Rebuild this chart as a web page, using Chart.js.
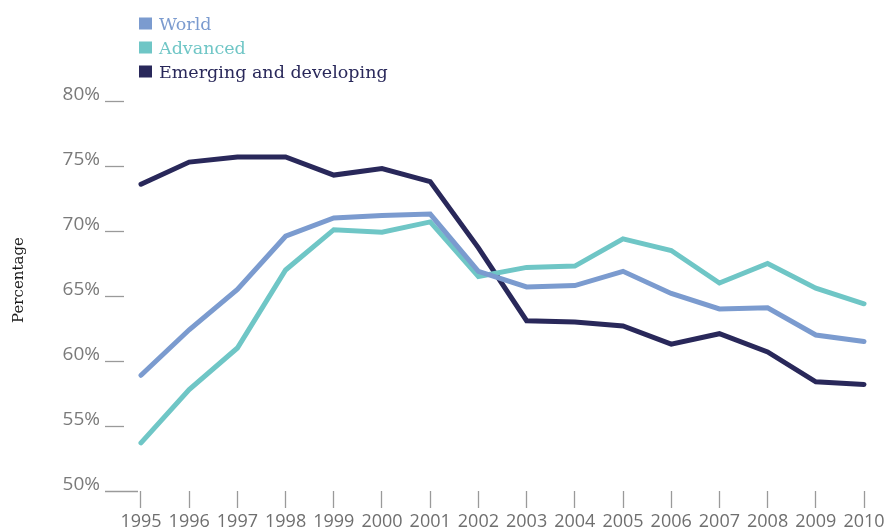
<!DOCTYPE html>
<html>
<head>
<meta charset="utf-8">
<script src="https://cdn.jsdelivr.net/npm/chart.js@4"></script>
<style>
  html, body { margin: 0; padding: 0; background: #fff; }
  canvas { display: block; }
</style>
</head>
<body>
<canvas id="chart" width="888" height="531"></canvas>
<script>
const years = [1995, 1996, 1997, 1998, 1999, 2000, 2001, 2002, 2003, 2004, 2005, 2006, 2007, 2008, 2009, 2010];
const world = [58.9, 62.4, 65.5, 69.6, 71.0, 71.2, 71.3, 66.9, 65.7, 65.8, 66.9, 65.2, 64.0, 64.1, 62.0, 61.5];
const advanced = [53.7, 57.8, 61.0, 67.0, 70.1, 69.9, 70.7, 66.5, 67.2, 67.3, 69.4, 68.5, 66.0, 67.5, 65.6, 64.4];
const emerging = [73.6, 75.3, 75.7, 75.7, 74.3, 74.8, 73.8, 68.7, 63.1, 63.0, 62.7, 61.3, 62.1, 60.7, 58.4, 58.2];
const yTicks = [50, 55, 60, 65, 70, 75, 80];

const seriesNames = ["World", "Advanced", "Emerging and developing"];
const seriesColors = ["#7b9bcf", "#6fc6c6", "#29285a"];
const axisTitle = "Percentage";

const sansFont = "'Open Sans', 'Noto Sans', sans-serif";
const serifFont = "'DejaVu Serif', serif";

const toPoints = (vals) => vals.map((v, i) => ({ x: years[i], y: v }));

// legend block and rotated axis title, drawn on the canvas
const annotations = {
  id: "annotations",
  afterDraw(chart) {
    const ctx = chart.ctx;
    ctx.save();
    ctx.font = "17.5px " + serifFont;
    ctx.textBaseline = "alphabetic";
    ctx.textAlign = "left";
    chart.data.datasets.forEach((ds, i) => {
      const base = 29.5 + i * 24;
      ctx.fillStyle = ds.borderColor;
      ctx.fillRect(139, base - 12, 13, 12);
      ctx.fillText(ds.label, 159, base);
    });

    ctx.translate(22.5, 280);
    ctx.rotate(-Math.PI / 2);
    ctx.font = "15px " + serifFont;
    ctx.fillStyle = "#1a1a1a";
    ctx.textAlign = "center";
    ctx.fillText(axisTitle, 0, 0);
    ctx.restore();
  },
};

new Chart(document.getElementById("chart"), {
  type: "line",
  data: {
    datasets: [world, advanced, emerging].map((vals, i) => ({
      label: seriesNames[i],
      data: toPoints(vals),
      borderColor: seriesColors[i],
      backgroundColor: seriesColors[i],
      borderWidth: 5,
      borderCapStyle: "round",
      pointRadius: 0,
      tension: 0,
    })),
  },
  options: {
    responsive: false,
    animation: false,
    layout: { padding: { top: 101, right: 21, bottom: 0, left: 0 } },
    plugins: {
      legend: { display: false },
      tooltip: { enabled: false },
    },
    scales: {
      x: {
        type: "linear",
        min: 1994.938,
        max: 2010.062,
        afterFit: (s) => {
          s.height = 40;
          s.paddingLeft = 0;
          s.paddingRight = 0;
        },
        afterBuildTicks: (s) => {
          s.ticks = years.map((y) => ({ value: y }));
        },
        border: { display: false },
        grid: {
          drawOnChartArea: false,
          tickLength: 17,
          tickColor: "#9a9a9a",
          tickWidth: 1.3,
        },
        ticks: {
          autoSkip: false,
          maxRotation: 0,
          padding: 3,
          color: "#6f6f6f",
          font: { family: sansFont, size: 18 },
          callback: (v) => String(v),
        },
      },
      y: {
        min: 50,
        max: 80,
        afterFit: (s) => {
          s.width = 138;
          s.paddingTop = 0;
          s.paddingBottom = 0;
        },
        afterBuildTicks: (s) => {
          s.ticks = yTicks.map((v) => ({ value: v }));
        },
        border: { display: false },
        grid: {
          drawOnChartArea: false,
          tickLength: 33,
          tickColor: "#9a9a9a",
          tickWidth: 1.3,
          // short marks beside each label; the baseline tick runs on to the first year
          tickBorderDash: (c) => (c.tick && c.tick.value === 50 ? [] : [19, 60]),
        },
        ticks: {
          padding: 5,
          labelOffset: -6,
          color: "#7a7a7a",
          font: { family: sansFont, size: 19 },
          callback: (v) => v + "%",
        },
      },
    },
  },
  plugins: [annotations],
});
</script>
</body>
</html>
